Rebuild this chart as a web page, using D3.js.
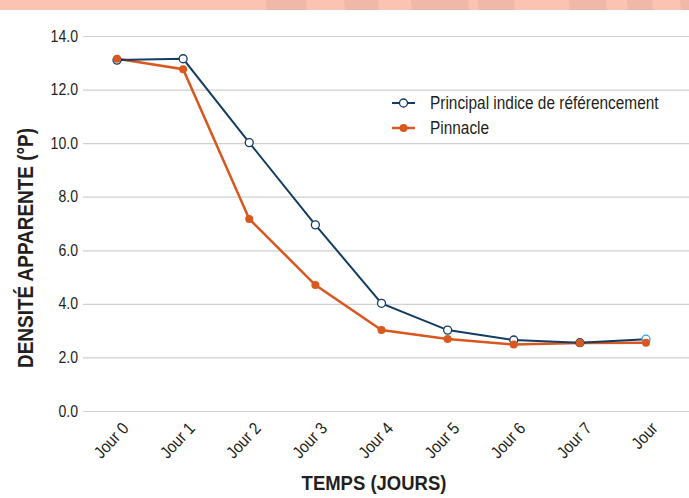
<!DOCTYPE html>
<html>
<head>
<meta charset="utf-8">
<script src="https://cdn.jsdelivr.net/npm/d3@7"></script>
<style>
	body { margin: 0; background: #fff; }
	text { font-family: "Liberation Sans", Arial, sans-serif; fill: #231f20; }
</style>
</head>
<body>
<div id="chart"></div>
<script>
// Data
const days = ['Jour 0', 'Jour 1', 'Jour 2', 'Jour 3', 'Jour 4', 'Jour 5', 'Jour 6', 'Jour 7', 'Jour'];
const benchmark = [13.1, 13.15, 10.02, 6.95, 4.02, 3.02, 2.65, 2.55, 2.68];
const pinnacle = [13.15, 12.76, 7.17, 4.7, 3.02, 2.69, 2.48, 2.54, 2.55];
const yTicks = [0, 2, 4, 6, 8, 10, 12, 14];
const seriesNames = ['Principal indice de référencement', 'Pinnacle'];
// decorative band at the top: darker patches [x0, x1]
const bandPatches = [[266, 306], [344, 378], [411, 468], [478, 514], [569, 606], [627, 652], [680, 689]];

const w = 689, h = 498;
const blue = '#133c63', orange = '#d8581f';

const svg = d3.select('#chart')
	.append('svg')
	.attr('width', w)
	.attr('height', h);

// Top band
svg.append('rect')
	.attr('x', 0).attr('y', 0)
	.attr('width', w).attr('height', 10)
	.attr('fill', '#fcc3b2');
svg.selectAll('.patch')
	.data(bandPatches)
	.enter()
	.append('polygon')
	.attr('class', 'patch')
	.attr('points', (d) => `${d[0]},0 ${d[1]},0 ${d[1] + 1},10 ${d[0] + 1},10`)
	.attr('fill', '#efb8a8');

// Scales
const xScale = d3.scalePoint()
	.domain(days)
	.range([117, 646]);

const yScale = d3.scaleLinear()
	.domain([0, 14])
	.range([411, 36]);

// Grid + y labels
const yAxis = d3.axisLeft(yScale)
	.tickValues(yTicks)
	.tickSize(-(w - 83))
	.tickPadding(5)
	.tickFormat(d3.format('.1f'));

const gy = svg.append('g')
	.attr('transform', 'translate(83,0)')
	.call(yAxis);
gy.select('.domain').remove();
gy.selectAll('.tick line')
	.attr('stroke', '#d0d0d0')
	.attr('stroke-width', 1.2);
gy.selectAll('.tick text')
	.attr('class', 'squeeze')
	.style('font-size', '16px');

// X labels
const xAxis = d3.axisBottom(xScale).tickSize(0);
const gx = svg.append('g')
	.attr('transform', 'translate(0,411)')
	.call(xAxis);
gx.select('.domain').remove();
gx.selectAll('.tick text')
	.attr('class', 'squeeze')
	.style('font-size', '17px')
	.attr('text-anchor', 'end')
	.attr('dy', 0)
	.attr('transform', 'translate(10,16) rotate(-47)');
svg.selectAll('g').attr('font-family', null);

// Lines
const line = d3.line()
	.x((d, i) => xScale(days[i]))
	.y((d) => yScale(d));

svg.append('path')
	.datum(pinnacle)
	.attr('fill', 'none')
	.attr('stroke', orange)
	.attr('stroke-width', 2.5)
	.attr('d', line);

svg.append('path')
	.datum(benchmark)
	.attr('fill', 'none')
	.attr('stroke', blue)
	.attr('stroke-width', 2)
	.attr('d', line);

svg.selectAll('.pt-b')
	.data(benchmark)
	.enter()
	.append('circle')
	.attr('class', 'pt-b')
	.attr('cx', (d, i) => xScale(days[i]))
	.attr('cy', (d) => yScale(d))
	.attr('r', 4)
	.attr('fill', '#fff')
	.attr('stroke', (d, i) => i === benchmark.length - 1 ? '#3b9ad6' : blue)
	.attr('stroke-width', 1.3);

svg.selectAll('.pt-o')
	.data(pinnacle)
	.enter()
	.append('circle')
	.attr('class', 'pt-o')
	.attr('cx', (d, i) => xScale(days[i]))
	.attr('cy', (d) => yScale(d))
	.attr('r', 4)
	.attr('fill', orange);

// Legend
const legend = svg.append('g')
	.attr('transform', 'translate(392,103)');
const legendColors = [blue, orange];
seriesNames.forEach((name, i) => {
	const g = legend.append('g').attr('transform', `translate(0,${i * 25})`);
	g.append('line')
		.attr('x1', 0).attr('x2', 23)
		.attr('stroke', legendColors[i])
		.attr('stroke-width', i === 0 ? 2 : 2.5);
	g.append('circle')
		.attr('cx', 11.5).attr('r', 4)
		.attr('fill', i === 0 ? '#fff' : orange)
		.attr('stroke', i === 0 ? blue : 'none')
		.attr('stroke-width', 1.3);
	g.append('text')
		.attr('class', 'squeeze')
		.attr('x', 38).attr('dy', '0.35em')
		.style('font-size', '17.5px')
		.text(name);
});

// Axis titles
svg.append('text')
	.attr('class', 'squeeze')
	.attr('transform', 'translate(33,248) rotate(-90)')
	.attr('text-anchor', 'middle')
	.style('font-size', '21.5px')
	.style('font-weight', 'bold')
	.text('DENSITÉ APPARENTE (°P)');

svg.append('text')
	.attr('class', 'squeeze')
	.attr('x', 374)
	.attr('y', 490)
	.attr('text-anchor', 'middle')
	.style('font-size', '21px')
	.style('font-weight', 'bold')
	.text('TEMPS (JOURS)');

// condense labels horizontally, like the narrow face of the original
svg.selectAll('text.squeeze').each(function() {
	const len = this.getComputedTextLength();
	d3.select(this)
		.attr('textLength', len * 0.88)
		.attr('lengthAdjust', 'spacingAndGlyphs');
});
</script>
</body>
</html>
